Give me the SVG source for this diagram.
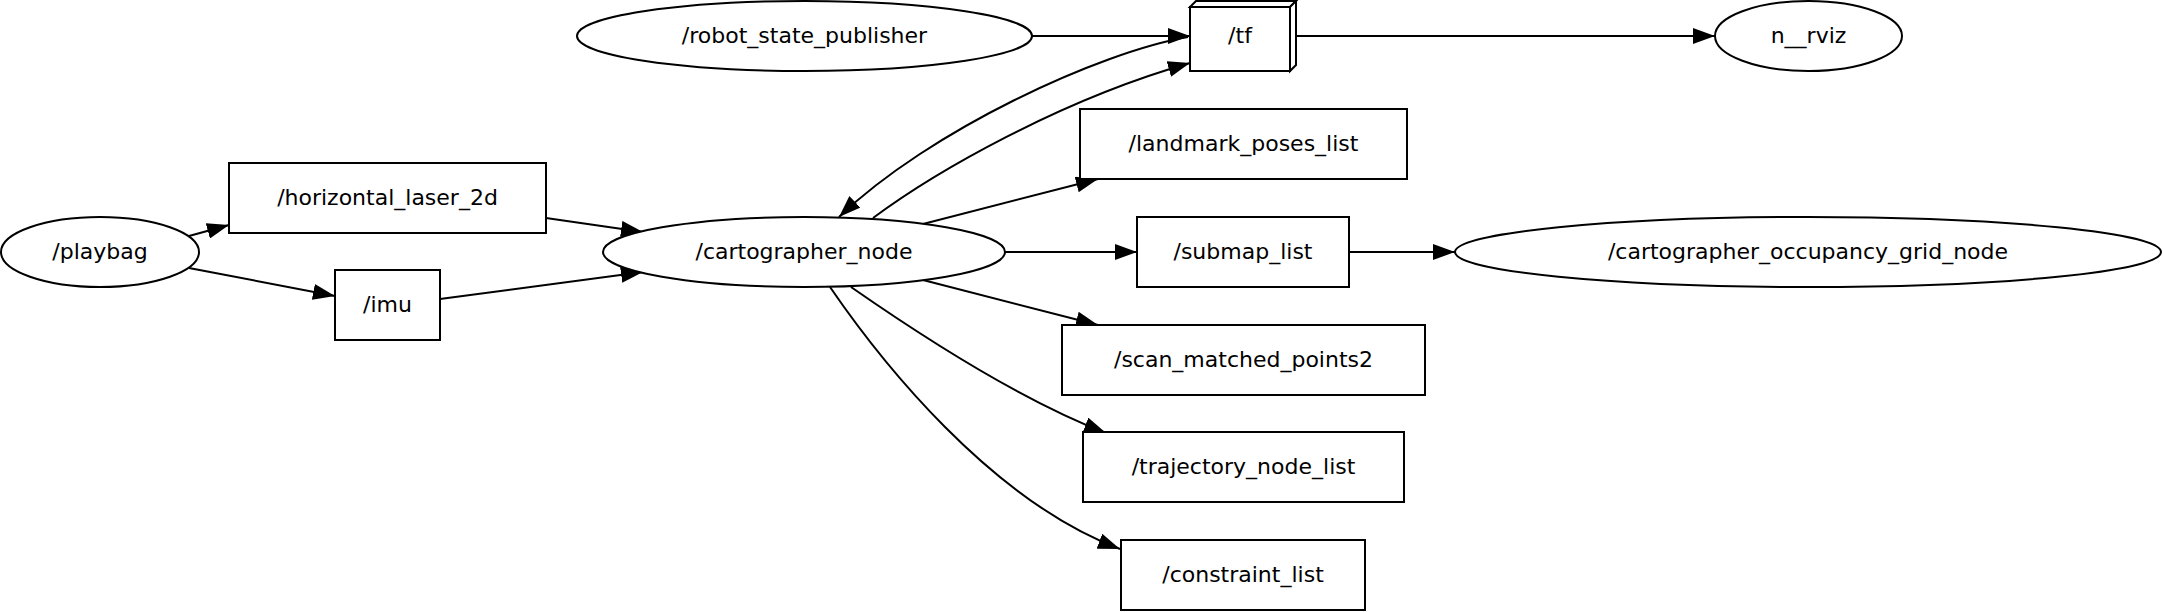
<svg xmlns="http://www.w3.org/2000/svg" width="2163" height="612" viewBox="0 0 2163 612">
<style>
.shape{fill:#fff;stroke:#000;stroke-width:2}
.lbl{font-family:"DejaVu Sans",Verdana,sans-serif;font-size:22px;text-anchor:middle;fill:#000}
.edge{fill:none;stroke:#000;stroke-width:2;marker-end:url(#ah)}
</style>
<defs>
<marker id="ah" markerUnits="userSpaceOnUse" markerWidth="22" markerHeight="16" viewBox="0 0 22 16" refX="22" refY="8" orient="auto">
<path d="M0,0 L22,8 L0,16 z" fill="#000"/>
</marker>
</defs>
<rect width="2163" height="612" fill="#fff"/>
<g id="connectors">
<path class="edge" d="M189,236 L229,225"/>
<path class="edge" d="M189,268 L335,296"/>
<path class="edge" d="M546,218 L643,232"/>
<path class="edge" d="M440,299 L643,272"/>
<path class="edge" d="M1032,36 L1190,36"/>
<path class="edge" d="M1296,36 L1715,36"/>
<path class="edge" d="M1188,37 C1100,52 930,130 839,217"/>
<path class="edge" d="M873,218 C935,172 1060,100 1190,63"/>
<path class="edge" d="M923,224 L1098,179"/>
<path class="edge" d="M1005,252 L1137,252"/>
<path class="edge" d="M1349,252 L1455,252"/>
<path class="edge" d="M923,280 L1098,325"/>
<path class="edge" d="M851,287 C920,335 1020,400 1106,433"/>
<path class="edge" d="M830,287 C880,360 990,500 1120,549"/>
</g>
<g id="playbag">
<ellipse class="shape" cx="100" cy="252" rx="99" ry="35"/>
<text class="lbl" x="100" y="259">/playbag</text>
</g>
<g id="horizontal_laser_2d">
<rect class="shape" x="229" y="163" width="317" height="70"/>
<text class="lbl" x="387.5" y="205">/horizontal_laser_2d</text>
</g>
<g id="imu">
<rect class="shape" x="335" y="270" width="105" height="70"/>
<text class="lbl" x="387.5" y="312">/imu</text>
</g>
<g id="robot_state_publisher">
<ellipse class="shape" cx="804.5" cy="36" rx="227.5" ry="35"/>
<text class="lbl" x="804.5" y="43">/robot_state_publisher</text>
</g>
<g id="tf">
<rect class="shape" x="1190" y="7" width="100" height="64"/>
<polygon class="shape" points="1190,7 1196,1 1296,1 1290,7"/>
<polygon class="shape" points="1290,7 1296,1 1296,65 1290,71"/>
<text class="lbl" x="1240" y="43">/tf</text>
</g>
<g id="n__rviz">
<ellipse class="shape" cx="1808.5" cy="36" rx="93.5" ry="35"/>
<text class="lbl" x="1808.5" y="43">n__rviz</text>
</g>
<g id="landmark_poses_list">
<rect class="shape" x="1080" y="109" width="327" height="70"/>
<text class="lbl" x="1243.5" y="151">/landmark_poses_list</text>
</g>
<g id="cartographer_node">
<ellipse class="shape" cx="804" cy="252" rx="201" ry="35"/>
<text class="lbl" x="804" y="259">/cartographer_node</text>
</g>
<g id="submap_list">
<rect class="shape" x="1137" y="217" width="212" height="70"/>
<text class="lbl" x="1243" y="259">/submap_list</text>
</g>
<g id="cartographer_occupancy_grid_node">
<ellipse class="shape" cx="1808" cy="252" rx="353" ry="35"/>
<text class="lbl" x="1808" y="259">/cartographer_occupancy_grid_node</text>
</g>
<g id="scan_matched_points2">
<rect class="shape" x="1062" y="325" width="363" height="70"/>
<text class="lbl" x="1243.5" y="367">/scan_matched_points2</text>
</g>
<g id="trajectory_node_list">
<rect class="shape" x="1083" y="432" width="321" height="70"/>
<text class="lbl" x="1243.5" y="474">/trajectory_node_list</text>
</g>
<g id="constraint_list">
<rect class="shape" x="1121" y="540" width="244" height="70"/>
<text class="lbl" x="1243" y="582">/constraint_list</text>
</g>
</svg>
